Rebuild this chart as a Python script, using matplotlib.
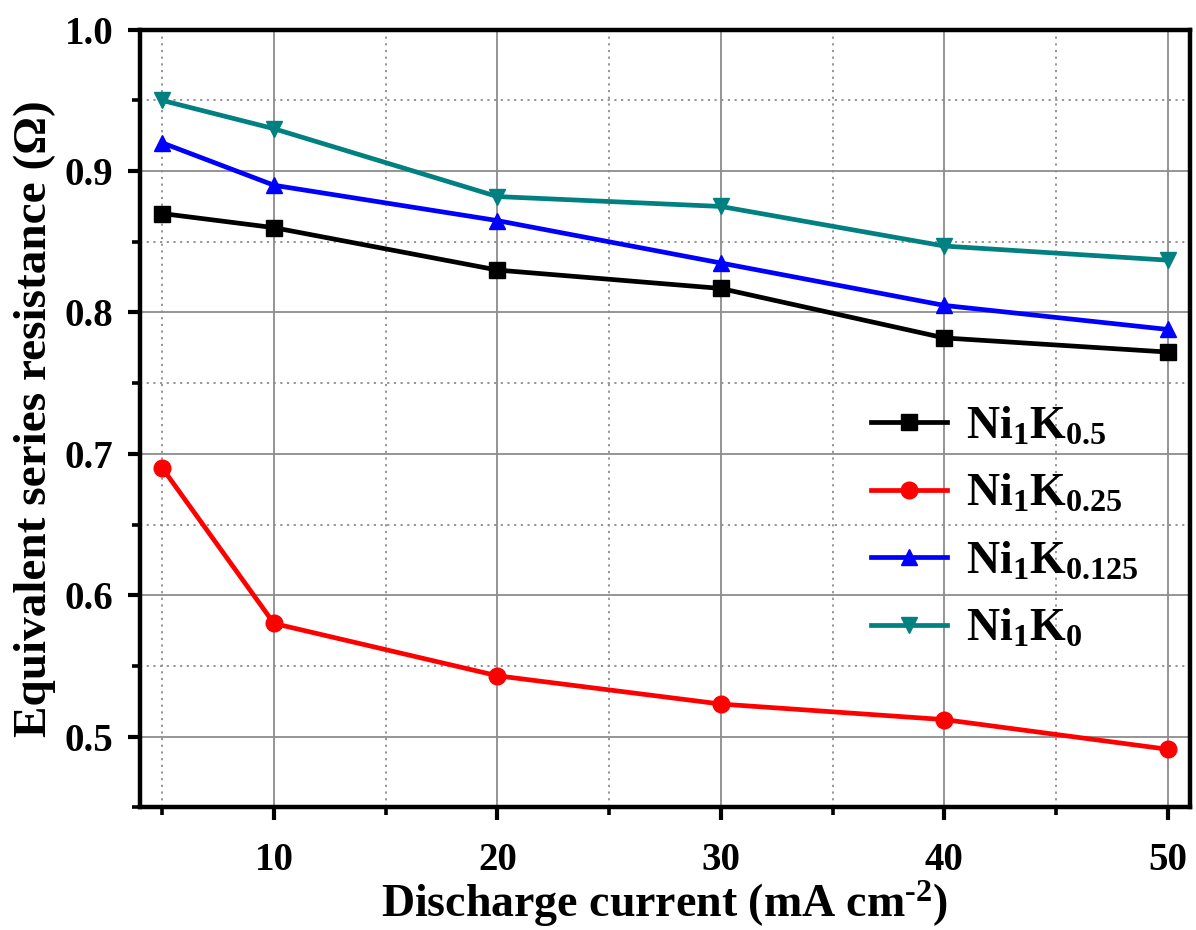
import matplotlib
matplotlib.use("Agg")
import matplotlib.pyplot as plt
from matplotlib.ticker import MultipleLocator

plt.rcParams['font.family'] = ['Liberation Serif', 'DejaVu Serif']
plt.rcParams['font.weight'] = 'bold'
plt.rcParams['mathtext.fontset'] = 'custom'
plt.rcParams['mathtext.rm'] = 'Liberation Serif:bold'
plt.rcParams['mathtext.bf'] = 'Liberation Serif:bold'
plt.rcParams['mathtext.it'] = 'Liberation Serif:bold'

current = [5, 10, 20, 30, 40, 50]
esr_k05 = [0.870, 0.860, 0.830, 0.817, 0.782, 0.772]
esr_k025 = [0.690, 0.580, 0.543, 0.523, 0.512, 0.491]
esr_k0125 = [0.920, 0.890, 0.865, 0.835, 0.805, 0.788]
esr_k0 = [0.950, 0.930, 0.882, 0.875, 0.847, 0.837]

series = [
    (esr_k05, r'$\mathrm{Ni_1K_{0.5}}$', 'black', 's'),
    (esr_k025, r'$\mathrm{Ni_1K_{0.25}}$', '#ff0000', 'o'),
    (esr_k0125, r'$\mathrm{Ni_1K_{0.125}}$', '#0000ff', '^'),
    (esr_k0, r'$\mathrm{Ni_1K_0}$', '#008080', 'v'),
]

fig = plt.figure(figsize=(11.96, 9.3), dpi=100)
ax = fig.add_axes([0.117, 0.132, 0.878, 0.836])

for vals, lab, col, mk in series:
    ax.plot(current, vals, color=col, marker=mk, markersize=12,
            linewidth=3.4, label=lab, zorder=3)

ax.set_xlim(4, 51)
ax.set_ylim(0.45, 1.0)
ax.xaxis.set_minor_locator(MultipleLocator(5))
ax.yaxis.set_minor_locator(MultipleLocator(0.05))
ax.set_xticks([10, 20, 30, 40, 50])
ax.set_yticks([0.5, 0.6, 0.7, 0.8, 0.9, 1.0])

ax.grid(which='major', color='#8c8c8c', linewidth=1.3, linestyle='-')
ax.grid(which='minor', color='#8c8c8c', linewidth=1.3, linestyle=(0, (1.2, 2.5)))

for sp in ax.spines.values():
    sp.set_linewidth(3.2)
ax.tick_params(which='major', direction='out', length=9, width=3.0,
               labelsize=28)
ax.tick_params(axis='x', which='major', pad=16)
ax.tick_params(axis='y', which='major', pad=10)
ax.tick_params(which='minor', direction='out', length=6, width=2.6)
ax.tick_params(top=False, right=False)

ax.set_xlabel(r'Discharge current (mA cm$^{\text{-2}}$)', fontsize=33,
              fontweight='bold', labelpad=0)
ax.set_ylabel('Equivalent series resistance (Ω)', fontsize=34,
              fontweight='bold', labelpad=6)

leg = ax.legend(loc='lower right', bbox_to_anchor=(0.99, 0.148), frameon=False,
                fontsize=33, handlelength=1.65, labelspacing=0.55,
                handletextpad=0.42)

fig.savefig('out.png', dpi=100)
